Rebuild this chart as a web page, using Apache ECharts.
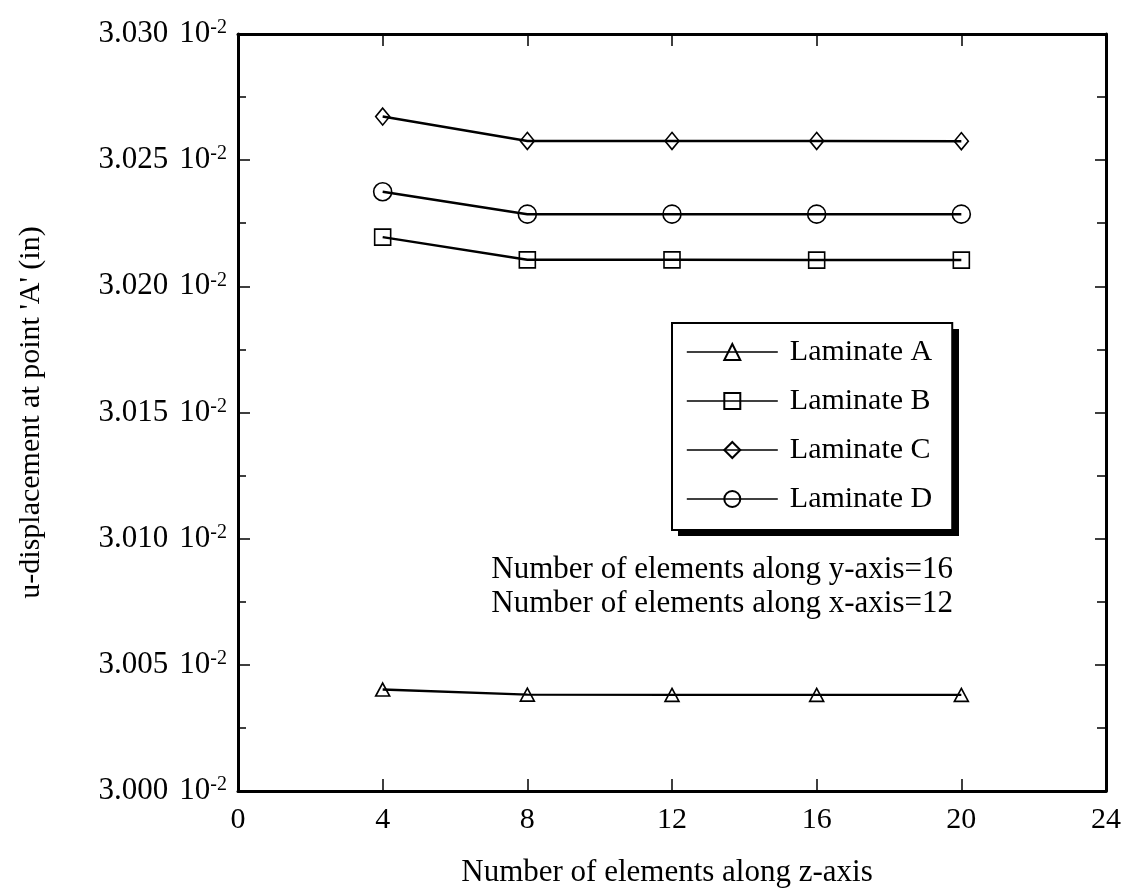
<!DOCTYPE html>
<html>
<head>
<meta charset="utf-8">
<script src="https://cdn.jsdelivr.net/npm/echarts@6/dist/echarts.min.js"></script>
<style>html,body{margin:0;padding:0;background:#fff}#c{width:1134px;height:890px}</style>
</head>
<body>
<div id="c"></div>
<script>
const elements = [4, 8, 12, 16, 20];
const laminateA = [3.00402, 3.00382, 3.00381, 3.00381, 3.00381];
const laminateB = [3.02195, 3.02105, 3.02105, 3.02104, 3.02104];
const laminateC = [3.02673, 3.02576, 3.02576, 3.02576, 3.02575];
const laminateD = [3.02375, 3.02286, 3.02286, 3.02286, 3.02286];
const seriesNames = ['Laminate A', 'Laminate B', 'Laminate C', 'Laminate D'];
const xTicks = [0, 4, 8, 12, 16, 20, 24];
const yTicks = [3.000, 3.005, 3.010, 3.015, 3.020, 3.025, 3.030];
const noteLines = ['Number of elements along y-axis=16', 'Number of elements along x-axis=12'];

const FONT = '"Liberation Serif", "DejaVu Serif", serif';
const chart = echarts.init(document.getElementById('c'), null, {renderer: 'canvas'});

function mk(name, vals, symbol, size, lw) {
  return {
    name: name,
    type: 'line',
    data: elements.map((x, i) => [x, vals[i]]),
    symbol: symbol,
    symbolSize: size,
    showAllSymbol: true,
    lineStyle: {color: '#000', width: lw},
    itemStyle: {color: 'transparent', borderColor: '#000', borderWidth: 1.6},
    emphasis: {disabled: true},
    z: 3
  };
}

const axisCommon = {
  axisLine: {show: true, onZero: false, lineStyle: {color: '#000', width: 3}},
  axisTick: {show: true, inside: true, length: 12, lineStyle: {color: '#000', width: 1.5}},
  splitLine: {show: false}
};

chart.setOption({
  animation: false,
  backgroundColor: '#fff',
  textStyle: {fontFamily: FONT},
  grid: {left: 238, right: 28, top: 34, bottom: 99, containLabel: false, outerBoundsMode: 'none'},
  legend: {
    orient: 'vertical',
    left: 672, top: 323,
    data: seriesNames,
    padding: [14, 20, 16, 14],
    itemWidth: 91, itemHeight: 20, itemGap: 19,
    backgroundColor: '#fff',
    borderColor: '#000', borderWidth: 2,
    z: 10,
    lineStyle: {width: 1.6, color: '#000'},
    textStyle: {fontFamily: FONT, fontSize: 30, color: '#000', padding: [0, 0, 0, 7]},
    selectedMode: false
  },
  xAxis: [{
    type: 'value', min: 0, max: 24, interval: 4, position: 'bottom',
    ...axisCommon,
    axisLabel: {fontFamily: FONT, fontSize: 30, color: '#000', margin: 14,
      formatter: v => xTicks.includes(v) ? String(v) : ''},
    name: 'Number of elements along z-axis',
    nameLocation: 'middle', nameGap: 66,
    nameTextStyle: {fontFamily: FONT, fontSize: 31, color: '#000', padding: [0, 10, 0, 0]}
  }, {
    type: 'value', min: 0, max: 24, interval: 4, position: 'top',
    ...axisCommon,
    axisLabel: {show: false}
  }],
  yAxis: [{
    type: 'value', min: 3.000, max: 3.030, interval: 0.005, position: 'left',
    ...axisCommon,
    minorTick: {show: true, splitNumber: 2, length: 8, lineStyle: {color: '#000', width: 1.5}},
    axisLabel: {
      margin: 11, color: '#000',
      formatter: v => {
        const t = yTicks.find(y => Math.abs(y - v) < 1e-9);
        return t === undefined ? '' : '{a|' + t.toFixed(3) + '}{c|10}{b|-2}';
      },
      rich: {
        a: {fontFamily: FONT, fontSize: 31, color: '#000', lineHeight: 32},
        c: {fontFamily: FONT, fontSize: 31, color: '#000', lineHeight: 32, padding: [0, 0, 0, 11]},
        b: {fontFamily: FONT, fontSize: 20, color: '#000', verticalAlign: 'top', lineHeight: 18}
      }
    },
    name: "u-displacement at point 'A' (in)",
    nameLocation: 'middle', nameGap: 192,
    nameTextStyle: {fontFamily: FONT, fontSize: 30, color: '#000'}
  }, {
    type: 'value', min: 3.000, max: 3.030, interval: 0.005, position: 'right',
    ...axisCommon,
    axisTick: {show: true, inside: true, length: 11, lineStyle: {color: '#000', width: 1.5}},
    minorTick: {show: true, splitNumber: 2, length: 9, lineStyle: {color: '#000', width: 1.5}},
    axisLabel: {show: false}
  }],
  graphic: [
    {type: 'rect', left: 678, top: 329, z: 1, silent: true,
      shape: {width: 281, height: 207}, style: {fill: '#000'}}
  ].concat(noteLines.map((t, i) => ({
    type: 'text', right: 1134 - 953, top: 554 + i * 34, z: 5,
    style: {text: t, fontFamily: FONT, fontSize: 31, fill: '#000', textAlign: 'right'},
    silent: true
  }))),
  series: [
    mk('Laminate A', laminateA, 'triangle', [14, 13], 2.4),
    mk('Laminate B', laminateB, 'rect', 16, 2.5),
    mk('Laminate C', laminateC, 'diamond', [14, 17], 2.5),
    mk('Laminate D', laminateD, 'circle', 18, 2.5)
  ]
});
</script>
</body>
</html>
